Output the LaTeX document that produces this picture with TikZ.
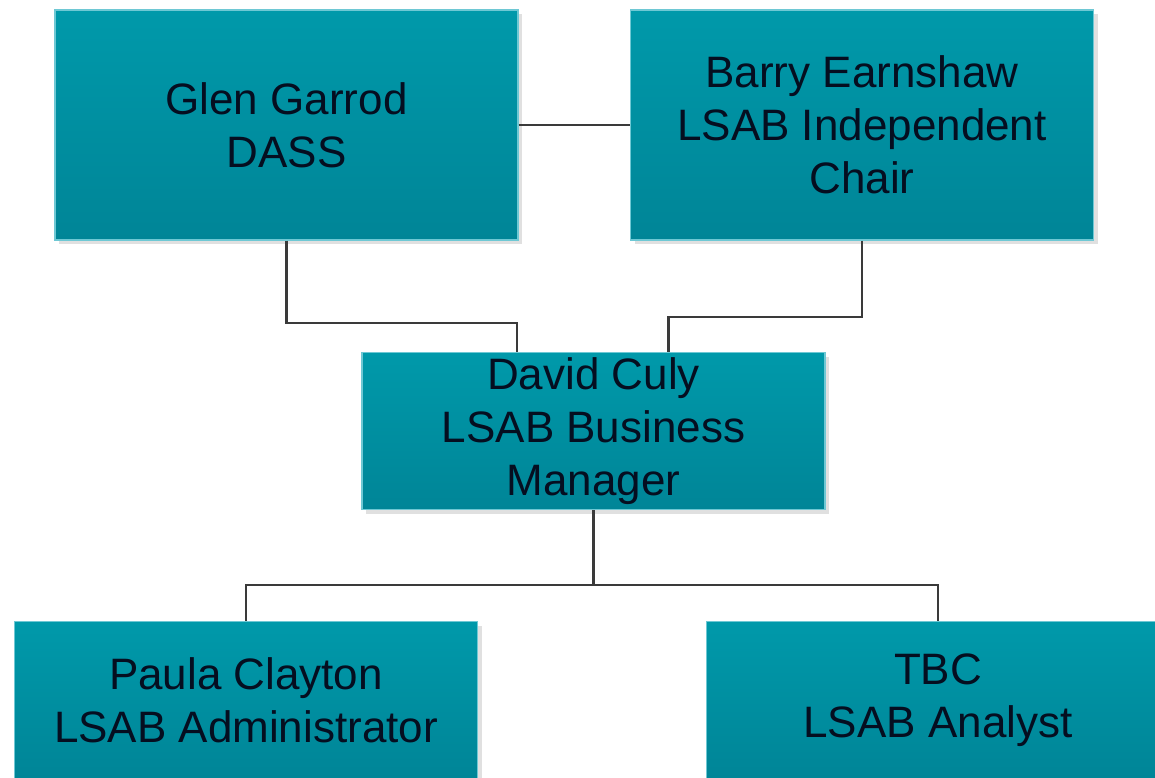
\documentclass[tikz,border=0pt]{standalone}
\usepackage{fontspec}
\setmainfont{Liberation Sans}
\usetikzlibrary{shadows}
\definecolor{boxtop}{RGB}{0,153,170}
\definecolor{boxbot}{RGB}{0,133,151}
\definecolor{boxedge}{RGB}{110,200,212}
\definecolor{txt}{RGB}{5,14,32}
\definecolor{wire}{RGB}{58,58,58}
\tikzset{
  person/.style={rectangle, inner sep=0pt, top color=boxtop, bottom color=boxbot,
    draw=boxedge, line width=1.2pt, text=txt, align=center,
    font=\fontsize{44}{53}\selectfont,
    drop shadow={shadow xshift=4pt, shadow yshift=-4pt, fill=black!12, opacity=1}},
  tallbox/.style={person, minimum width=463pt, minimum height=230pt},
  lowbox/.style={person, minimum width=463pt, minimum height=157pt},
  link/.style={draw=wire, line width=2.4pt}
}
\begin{document}
\begin{tikzpicture}[x=1pt,y=-1pt]
\useasboundingbox (0,0) rectangle (1155,778);
\clip (0,0) rectangle (1155,778);
\fill[white] (0,0) rectangle (1155,778);
\node[tallbox] (glen) at (286.5,125) {Glen Garrod\\DASS};
\node[tallbox] (barry) at (862,125) {Barry Earnshaw\\LSAB Independent\\Chair};
\node[lowbox] (david) at (593.5,431) {David Culy\\LSAB Business\\Manager};
\node[lowbox] (paula) at (246,700) {Paula Clayton\\LSAB Administrator};
\node[lowbox] (tbc) at (938,700) {TBC\\LSAB Analyst};
\draw[link] (glen.east) -- (barry.west);
\draw[link] (glen.south) -- (glen.south |- 0,323) -| ([xshift=-76.5pt]david.north);
\draw[link] (barry.south) -- (barry.south |- 0,317) -| ([xshift=75pt]david.north);
\draw[link] (david.south) -- (david.south |- 0,585) -| (paula.north);
\draw[link] (david.south |- 0,585) -| (tbc.north);
\end{tikzpicture}
\end{document}
